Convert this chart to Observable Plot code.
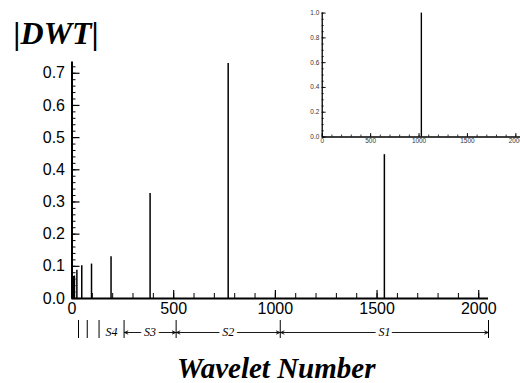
<!DOCTYPE html>
<html><head><meta charset="utf-8">
<script src="https://cdn.jsdelivr.net/npm/d3@7"></script>
<script src="https://cdn.jsdelivr.net/npm/@observablehq/plot@0.6"></script>
<style>
html,body{margin:0;padding:0;background:#fff;}
#chart{position:relative;width:520px;height:383px;overflow:hidden;}
#inset{position:absolute;left:290px;top:0px;}
</style>
</head><body>
<div id="chart"><div id="main"></div><div id="inset"></div></div>
<script>
// ---- data ----
const waveletIndex = [3, 6, 12, 24, 48, 96, 192, 384, 768, 1536];
const dwtMagnitude = [0.068, 0.068, 0.07, 0.088, 0.102, 0.107, 0.13, 0.326, 0.73, 0.447];
const insetIndex = [1024];
const insetMagnitude = [1.0];
const xTickLabels = [0, 500, 1000, 1500, 2000];
const yTickLabels = [0, 0.1, 0.2, 0.3, 0.4, 0.5, 0.6, 0.7];
const insetYTickLabels = [0, 0.2, 0.4, 0.6, 0.8, 1.0];
const scaleBounds = [32, 75, 133, 256, 512, 1024, 2048];
const scaleNames = ["S4", "S3", "S2", "S1"];
const scaleStart = [133, 256, 512, 1024];
const scaleEnd = [256, 512, 1024, 2048];
const scaleArrows = [false, true, true, true];

// ---- main chart ----
const W = 520, H = 383;
const mL = 71.5, mR = 32, mT = 61.5, mB = 85;
const frameW = W - mL - mR, frameH = H - mT - mB;
const yMax = 0.735;
const yBelow = p => -p / frameH * yMax;
const spikes = waveletIndex.map((x, i) => ({x, y: dwtMagnitude[i]}));
const xMinor = d3.range(0, 2001, 100);
const yMinor = d3.range(0, 0.7201, 0.02);
const segs = scaleNames.map((n, i) => ({name: n, a: scaleStart[i], b: scaleEnd[i], mid: (scaleStart[i] + scaleEnd[i]) / 2, arrow: scaleArrows[i]}));
const arrowSegs = segs.filter(d => d.arrow);
const annY = yBelow(34);
const serif = "Liberation Serif, Times New Roman, serif";

const main = Plot.plot({
  width: W, height: H,
  marginLeft: mL, marginRight: mR, marginTop: mT, marginBottom: mB,
  x: {domain: [0, 2048], axis: null},
  y: {domain: [0, yMax], axis: null},
  style: {fontFamily: "Liberation Sans, Arial, sans-serif", background: "transparent", overflow: "visible", color: "black"},
  marks: [
    Plot.ruleX(spikes, {x: "x", y1: 0, y2: "y", stroke: "black", strokeWidth: 1.5}),
    Plot.tickX(xMinor, {x: d => d, insetTop: frameH - 5, stroke: "black", strokeWidth: 1}),
    Plot.tickX(xTickLabels, {x: d => d, insetTop: frameH - 8, stroke: "black", strokeWidth: 1.2}),
    Plot.tickY(yMinor, {y: d => d, insetRight: frameW - 4, stroke: "black", strokeWidth: 1}),
    Plot.tickY(yTickLabels, {y: d => d, insetRight: frameW - 8, stroke: "black", strokeWidth: 1.2}),
    Plot.ruleY([0], {stroke: "black", strokeWidth: 2}),
    Plot.ruleX([0], {y1: 0, y2: yMax, stroke: "black", strokeWidth: 2}),
    Plot.text(xTickLabels, {x: d => d, y: 0, dy: 4, lineAnchor: "top", text: d => String(d), fontSize: 16}),
    Plot.text(yTickLabels, {x: 0, y: d => d, dx: -7, textAnchor: "end", text: d => d.toFixed(1), fontSize: 16}),
    // scale annotation
    Plot.tickX(scaleBounds, {x: d => d, insetTop: frameH + 22, insetBottom: -40, stroke: "black", strokeWidth: 1}),
    Plot.arrow(arrowSegs, {x1: "mid", x2: "a", y1: annY, y2: annY, stroke: "black", strokeWidth: 0.9, headLength: 6, headAngle: 50, insetEnd: 0.5}),
    Plot.arrow(arrowSegs, {x1: "mid", x2: "b", y1: annY, y2: annY, stroke: "black", strokeWidth: 0.9, headLength: 6, headAngle: 50, insetEnd: 0.5}),
    Plot.text(segs, {x: "mid", y: annY, text: "name", fontFamily: serif, fontStyle: "italic", fontSize: 12, fill: "black", stroke: "white", strokeWidth: 7}),
    // title and axis label
    Plot.text(["|DWT|"], {frameAnchor: "top-left", textAnchor: "start", lineAnchor: "bottom", dx: 13 - mL, dy: 43 - mT, fontFamily: serif, fontStyle: "italic", fontWeight: "bold", fontSize: 32}),
    Plot.text(["Wavelet Number"], {frameAnchor: "bottom", lineAnchor: "bottom", dx: -4, dy: 377 - (H - mB), fontFamily: serif, fontStyle: "italic", fontWeight: "bold", fontSize: 29})
  ]
});
document.getElementById("main").append(main);

// ---- inset ----
const iW = 232, iH = 160, imL = 32, imR = 0, imT = 12.7, imB = 22.3;
const iFrameW = iW - imL - imR, iFrameH = iH - imT - imB;
const iSpikes = insetIndex.map((x, i) => ({x, y: insetMagnitude[i]}));
const ixMinor = d3.range(0, 2001, 100);
const iyMinor = d3.range(0, 1.0001, 0.05);
const inset = Plot.plot({
  width: iW, height: iH,
  marginLeft: imL, marginRight: imR, marginTop: imT, marginBottom: imB,
  x: {domain: [0, 2048], axis: null},
  y: {domain: [0, 1], axis: null},
  style: {fontFamily: "Liberation Sans, Arial, sans-serif", background: "transparent", overflow: "visible", color: "black"},
  marks: [
    Plot.ruleX(iSpikes, {x: "x", y1: 0, y2: "y", stroke: "black", strokeWidth: 1.4}),
    Plot.tickX(ixMinor, {x: d => d, insetTop: iFrameH - 2, stroke: "black", strokeWidth: 0.8}),
    Plot.tickX(xTickLabels, {x: d => d, insetTop: iFrameH - 3.5, stroke: "black", strokeWidth: 0.9}),
    Plot.tickY(iyMinor, {y: d => d, insetRight: iFrameW - 2, stroke: "black", strokeWidth: 0.8}),
    Plot.tickY(insetYTickLabels, {y: d => d, insetRight: iFrameW - 4, stroke: "black", strokeWidth: 0.9}),
    Plot.ruleY([0], {stroke: "black", strokeWidth: 1.3}),
    Plot.ruleX([0], {y1: 0, y2: 1, stroke: "black", strokeWidth: 1.3}),
    Plot.text(xTickLabels, {x: d => d, y: 0, dy: 1.5, lineAnchor: "top", text: d => String(d), fontSize: 6.5, fill: "#333"}),
    Plot.text(insetYTickLabels, {x: 0, y: d => d, dx: -3, textAnchor: "end", text: d => d.toFixed(1), fontSize: 6.5, fill: "#333"})
  ]
});
document.getElementById("inset").append(inset);
</script>
</body></html>
